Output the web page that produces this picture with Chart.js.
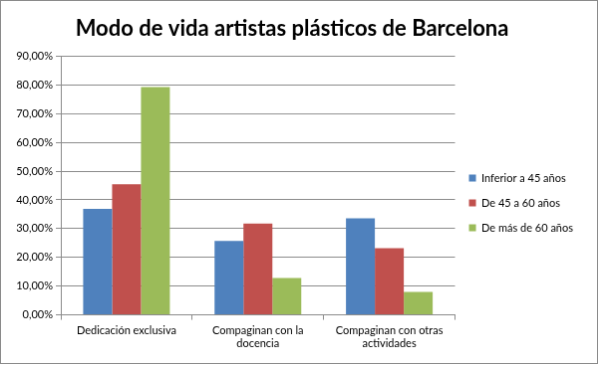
<!DOCTYPE html><html lang="es"><meta charset="utf-8">
<title>Modo de vida artistas plásticos de Barcelona</title>
<script src="https://cdn.jsdelivr.net/npm/chart.js@4.4.1"></script>
<style>
*{box-sizing:border-box}
body{margin:0;background:#fff}
#chart{display:block;border:1px solid #8a8a8a}
</style>
<body>
<canvas id="chart" width="598" height="364"></canvas>
<script>
const categorias = [['Dedicación exclusiva'], ['Compaginan con la','docencia'], ['Compaginan con otras','actividades']];
const series     = ['Inferior a 45 años', 'De 45 a 60 años', 'De más de 60 años'];
const inferior45 = [36.9, 25.7, 33.6];
const de45a60    = [45.4, 31.8, 23.2];
const mas60      = [79.2, 12.8, 8.0];
const colores    = ['#4f81bd', '#c0504d', '#9bbb59'];

const FONT = '"Lato","Open Sans",sans-serif';
Chart.defaults.font.family = FONT;
Chart.defaults.color = '#000';

new Chart(document.getElementById('chart'), {
  type: 'bar',
  data: {
    labels: categorias,
    datasets: [inferior45, de45a60, mas60].map((d, i) => ({
      label: series[i], data: d, backgroundColor: colores[i],
      borderWidth: 0, categoryPercentage: 0.66, barPercentage: 1
    }))
  },
  options: {
    responsive: false, animation: false,
    layout: { padding: { top: 4, right: 14, bottom: 9, left: 0 } },
    scales: {
      y: {
        min: 0, max: 90,
        ticks: { stepSize: 10, font: { size: 11 }, padding: 3,
                 callback: v => v.toFixed(2).replace('.', ',') + '%' },
        grid: { color: '#8c8c8c', tickLength: 5 },
        border: { color: '#8c8c8c' },
        afterFit: s => { s.width = 60; }
      },
      x: {
        ticks: { font: { size: 11 }, padding: 4 },
        grid: { drawOnChartArea: false, color: '#8c8c8c', tickLength: 5, offset: true },
        border: { color: '#8c8c8c' }
      }
    },
    plugins: {
      title: { display: true, text: 'Modo de vida artistas plásticos de Barcelona',
               font: { size: 22, weight: 'bold' }, padding: { top: 11, bottom: 14 } },
      legend: { position: 'right',
                title: { display: true, text: ' ', font: { size: 11 }, padding: { top: 34, bottom: 0 } },
                labels: { boxWidth: 7, boxHeight: 7, font: { size: 11 }, padding: 14 } },
      tooltip: { enabled: false }
    }
  }
});
</script>
</body></html>
